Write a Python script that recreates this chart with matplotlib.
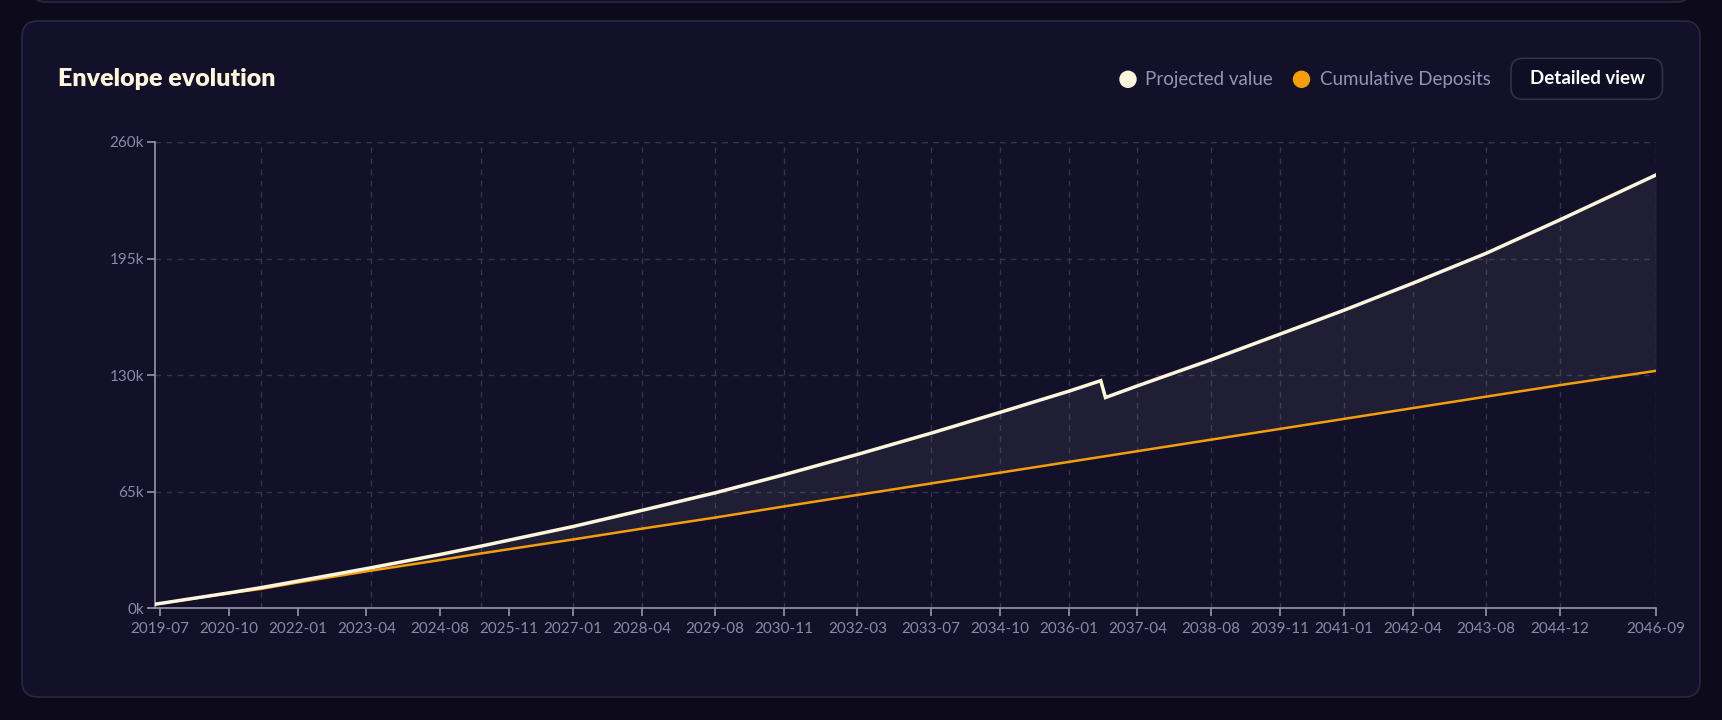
import matplotlib
matplotlib.use('Agg')
import matplotlib.pyplot as plt
import matplotlib.dates as mdates
from matplotlib.patches import FancyBboxPatch
from datetime import datetime

# values (thousands)
dates = ["2019-06", "2020-10", "2021-05", "2022-01", "2023-05", "2024-08", "2025-05",
         "2027-01", "2028-04", "2029-08", "2030-11", "2032-03", "2033-07", "2034-10",
         "2036-01", "2036-08", "2036-09", "2037-04", "2038-08", "2039-11", "2041-01",
         "2042-04", "2043-08", "2044-12", "2046-09"]
projected = [2.3, 8.6, 11.5, 15.2, 22.6, 30.0, 34.7, 45.6, 54.6, 64.4, 74.5, 85.8, 97.6,
             109.2, 121.0, 126.9, 117.5, 124.0, 138.5, 152.8, 166.2, 181.2, 197.9, 216.5, 241.6]
deposits = [2.3, 8.4, 10.8, 14.4, 21.0, 26.9, 30.6, 38.4, 44.4, 50.6, 56.8, 63.2, 69.6,
            75.6, 81.6, 84.4, 84.8, 87.6, 94.0, 100.0, 105.6, 111.6, 118.0, 124.4, 132.4]

x_ticks = ["2019-07", "2020-10", "2022-01", "2023-04", "2024-08", "2025-11", "2027-01",
           "2028-04", "2029-08", "2030-11", "2032-03", "2033-07", "2034-10", "2036-01",
           "2037-04", "2038-08", "2039-11", "2041-01", "2042-04", "2043-08", "2044-12",
           "2046-09"]
x_grid = ["2021-05", "2023-05", "2025-05", "2027-01", "2028-04", "2029-08", "2030-11",
          "2032-03", "2033-07", "2034-10", "2036-01", "2037-04", "2038-08", "2039-11",
          "2041-01", "2042-04", "2043-08", "2044-12", "2046-09"]
y_ticks = [0, 65, 130, 195, 260]


def to_date(s):
    return datetime.strptime(s, "%Y-%m")


d = [to_date(s) for s in dates]

BG = '#0c0a1b'
PANEL = '#131129'
EDGE = '#2a2841'
CREAM = '#fdf6dc'
ORANGE = '#f59e0b'
MUTED = '#8d88a8'
LEG = '#9792b6'
AXIS = '#9894b0'
GRID = '#36334f'

plt.rcParams['font.family'] = ['Lato', 'DejaVu Sans']

fig = plt.figure(figsize=(17.22, 7.2), dpi=100)
fig.patch.set_facecolor(BG)

# previous card edge at the very top
fig.patches.append(FancyBboxPatch((0.31, 7.18), 16.6, 1.0,
                                  boxstyle="round,pad=0,rounding_size=0.15",
                                  transform=fig.dpi_scale_trans, facecolor=PANEL,
                                  edgecolor=EDGE, lw=1.2, zorder=-5))
# main card
fig.patches.append(FancyBboxPatch((0.22, 0.23), 16.78, 6.76,
                                  boxstyle="round,pad=0,rounding_size=0.16",
                                  transform=fig.dpi_scale_trans, facecolor=PANEL,
                                  edgecolor=EDGE, lw=1.2, zorder=-5))

ax = fig.add_axes([0.0902, 0.1551, 0.8715, 0.6478])
ax.set_facecolor('none')
ax.set_zorder(2)

ax.fill_between(d, deposits, projected, color='white', alpha=0.06, lw=0, zorder=2)
ax.plot(d, deposits, color=ORANGE, lw=1.8, zorder=3, solid_joinstyle='round')
ax.plot(d, projected, color=CREAM, lw=2.5, zorder=4, solid_joinstyle='miter')

ax.set_xlim(to_date("2019-06"), to_date("2046-09"))
ax.set_ylim(0, 260)

ax.xaxis.remove_overlapping_locs = False
ax.set_xticks([to_date(s) for s in x_ticks])
ax.xaxis.set_major_formatter(mdates.DateFormatter('%Y-%m'))
ax.set_xticks([to_date(s) for s in x_grid], minor=True)
ax.set_yticks(y_ticks)
ax.set_yticklabels([f"{v}k" for v in y_ticks])

ax.tick_params(axis='both', colors=AXIS, labelcolor=MUTED, labelsize=11, length=6, width=1.2)
ax.tick_params(axis='x', which='minor', length=0)
ax.tick_params(axis='x', pad=4)
ax.tick_params(axis='y', pad=2)

ax.grid(True, axis='y', color=GRID, ls=(0, (4, 4)), lw=1)
ax.grid(True, axis='x', which='minor', color=GRID, ls=(0, (4, 4)), lw=1)
ax.axhline(260, color=GRID, ls=(0, (4, 4)), lw=1, zorder=1)

for side in ['top', 'right']:
    ax.spines[side].set_visible(False)
for side in ['left', 'bottom']:
    ax.spines[side].set_color(AXIS)
    ax.spines[side].set_linewidth(1.2)

# title
fig.text(58 / 1722, 1 - 79 / 720, "Envelope evolution", color=CREAM, fontsize=18,
         fontweight='heavy', va='center', ha='left')

# legend
fig.patches.append(plt.Circle((11.28, 7.2 - 0.793), 0.08, transform=fig.dpi_scale_trans,
                              color=CREAM, zorder=3))
fig.text(1145 / 1722, 1 - 79 / 720, "Projected value", color=LEG, fontsize=13.5,
         va='center', ha='left')
fig.patches.append(plt.Circle((13.015, 7.2 - 0.793), 0.08, transform=fig.dpi_scale_trans,
                              color=ORANGE, zorder=3))
fig.text(1320 / 1722, 1 - 79 / 720, "Cumulative Deposits", color=LEG, fontsize=13.5,
         va='center', ha='left')

# button
fig.patches.append(FancyBboxPatch((15.11, 7.2 - 0.993), 1.515, 0.41,
                                  boxstyle="round,pad=0,rounding_size=0.12",
                                  transform=fig.dpi_scale_trans, facecolor='#100e24',
                                  edgecolor='#33304b', lw=1.2, zorder=2))
fig.text(1587 / 1722, 1 - 79 / 720, "Detailed view", color='white', fontsize=13.5,
         fontweight='bold', va='center', ha='center')

fig.savefig('out.png', dpi=100, facecolor=BG)
